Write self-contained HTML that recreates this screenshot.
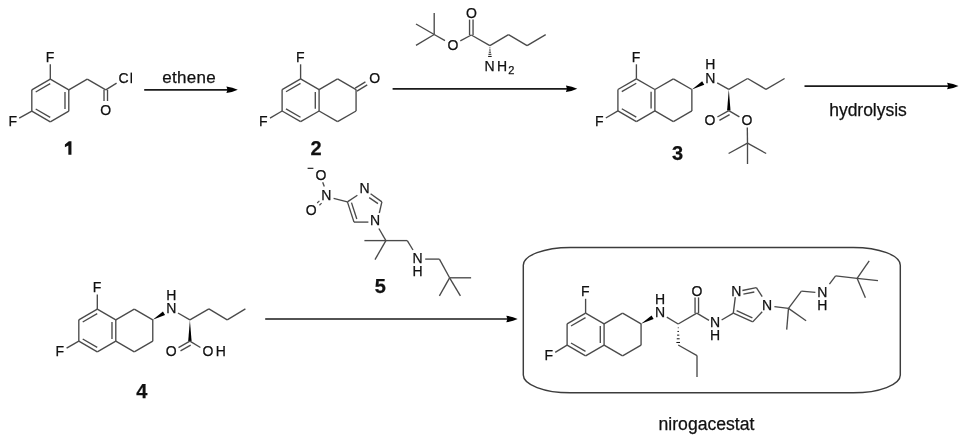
<!DOCTYPE html>
<html><head><meta charset="utf-8"><style>
html,body{margin:0;padding:0;background:#fff;}
body{width:960px;height:435px;overflow:hidden;}
svg{display:block;}
text{font-family:"Liberation Sans",sans-serif;fill:#111;stroke:#111;stroke-width:0.25px;}
svg{will-change:transform;}
</style></head><body>
<svg width="960" height="435" viewBox="0 0 960 435">
<rect width="960" height="435" fill="#fff"/>
<line x1="50.3" y1="79.15" x2="68.79" y2="89.83" stroke="#4a4a4a" stroke-width="1.35"/>
<line x1="68.79" y1="89.83" x2="68.79" y2="111.17" stroke="#4a4a4a" stroke-width="1.35"/>
<line x1="68.79" y1="111.17" x2="50.3" y2="121.85" stroke="#4a4a4a" stroke-width="1.35"/>
<line x1="50.3" y1="121.85" x2="31.81" y2="111.17" stroke="#4a4a4a" stroke-width="1.35"/>
<line x1="31.81" y1="111.17" x2="31.81" y2="89.83" stroke="#4a4a4a" stroke-width="1.35"/>
<line x1="31.81" y1="89.83" x2="50.3" y2="79.15" stroke="#4a4a4a" stroke-width="1.35"/>
<line x1="35.7" y1="91.97" x2="50.21" y2="83.59" stroke="#4a4a4a" stroke-width="1.35"/>
<line x1="64.99" y1="92.12" x2="64.99" y2="108.88" stroke="#4a4a4a" stroke-width="1.35"/>
<line x1="50.21" y1="117.41" x2="35.7" y2="109.03" stroke="#4a4a4a" stroke-width="1.35"/>
<line x1="50.3" y1="79.15" x2="50.3" y2="64.2" stroke="#4a4a4a" stroke-width="1.35"/>
<text x="45.82" y="61.6" style="font-size:14px">F</text>
<line x1="31.81" y1="111.17" x2="19.2" y2="118.2" stroke="#4a4a4a" stroke-width="1.35"/>
<text x="8.62" y="125.8" style="font-size:14px">F</text>
<line x1="68.79" y1="89.83" x2="87.28" y2="79.15" stroke="#4a4a4a" stroke-width="1.35"/>
<line x1="87.28" y1="79.15" x2="105.77" y2="89.83" stroke="#4a4a4a" stroke-width="1.35"/>
<line x1="105.77" y1="89.83" x2="116.6" y2="83.2" stroke="#4a4a4a" stroke-width="1.35"/>
<text x="118.6" y="83.15" style="font-size:14px">C</text>
<rect x="130.55" y="72.6" width="1.45" height="10.6" fill="#111"/>
<line x1="104.02" y1="89.83" x2="104.02" y2="101" stroke="#4a4a4a" stroke-width="1.35"/>
<line x1="107.52" y1="89.83" x2="107.52" y2="101" stroke="#4a4a4a" stroke-width="1.35"/>
<text x="100.17" y="115.15" style="font-size:14px">O</text>
<polygon points="71.45,141.2 71.45,154.7 68.35,154.7 68.35,145.4 64.9,147.3 64.9,144.5 68.9,141.2" fill="#111"/>
<line x1="144.2" y1="89.8" x2="228.3" y2="89.8" stroke="#1a1a1a" stroke-width="1.7"/>
<path d="M237.8 89.8 Q232.6 87.3 226.4 86.55 L227.5 89.8 L226.4 93.05 Q232.6 92.3 237.8 89.8Z" fill="#000"/>
<text x="162.3" y="82.65" style="font-size:17px;letter-spacing:0.3px">ethene</text>
<line x1="300.6" y1="78.95" x2="319.09" y2="89.62" stroke="#4a4a4a" stroke-width="1.35"/>
<line x1="319.09" y1="89.62" x2="319.09" y2="110.97" stroke="#4a4a4a" stroke-width="1.35"/>
<line x1="319.09" y1="110.97" x2="300.6" y2="121.65" stroke="#4a4a4a" stroke-width="1.35"/>
<line x1="300.6" y1="121.65" x2="282.11" y2="110.97" stroke="#4a4a4a" stroke-width="1.35"/>
<line x1="282.11" y1="110.97" x2="282.11" y2="89.62" stroke="#4a4a4a" stroke-width="1.35"/>
<line x1="282.11" y1="89.62" x2="300.6" y2="78.95" stroke="#4a4a4a" stroke-width="1.35"/>
<line x1="286" y1="91.77" x2="300.51" y2="83.39" stroke="#4a4a4a" stroke-width="1.35"/>
<line x1="315.29" y1="91.92" x2="315.29" y2="108.67" stroke="#4a4a4a" stroke-width="1.35"/>
<line x1="300.51" y1="117.21" x2="286" y2="108.83" stroke="#4a4a4a" stroke-width="1.35"/>
<line x1="319.09" y1="89.62" x2="337.58" y2="78.95" stroke="#4a4a4a" stroke-width="1.35"/>
<line x1="337.58" y1="78.95" x2="356.07" y2="89.62" stroke="#4a4a4a" stroke-width="1.35"/>
<line x1="356.07" y1="89.62" x2="356.07" y2="110.97" stroke="#4a4a4a" stroke-width="1.35"/>
<line x1="356.07" y1="110.97" x2="337.58" y2="121.65" stroke="#4a4a4a" stroke-width="1.35"/>
<line x1="337.58" y1="121.65" x2="319.09" y2="110.97" stroke="#4a4a4a" stroke-width="1.35"/>
<line x1="300.6" y1="78.95" x2="300.6" y2="64.3" stroke="#4a4a4a" stroke-width="1.35"/>
<text x="296.03" y="61.6" style="font-size:14px">F</text>
<line x1="282.11" y1="110.97" x2="270" y2="118.1" stroke="#4a4a4a" stroke-width="1.35"/>
<text x="259.12" y="125.7" style="font-size:14px">F</text>
<line x1="356.97" y1="91.12" x2="367.24" y2="84.95" stroke="#4a4a4a" stroke-width="1.35"/>
<line x1="355.17" y1="88.13" x2="365.43" y2="81.95" stroke="#4a4a4a" stroke-width="1.35"/>
<text x="369.18" y="83.25" style="font-size:14px">O</text>
<text x="310.4" y="155.3" style="font-size:20px;font-weight:bold">2</text>
<line x1="434.2" y1="34.5" x2="434.2" y2="13.1" stroke="#4a4a4a" stroke-width="1.35"/>
<line x1="434.2" y1="34.5" x2="416" y2="24" stroke="#4a4a4a" stroke-width="1.35"/>
<line x1="434.2" y1="34.5" x2="416" y2="45.4" stroke="#4a4a4a" stroke-width="1.35"/>
<line x1="434.2" y1="34.5" x2="445" y2="40.7" stroke="#4a4a4a" stroke-width="1.35"/>
<text x="447.57" y="49.65" style="font-size:14px">O</text>
<line x1="460.3" y1="40.8" x2="471.3" y2="35" stroke="#4a4a4a" stroke-width="1.35"/>
<line x1="473.05" y1="35" x2="473.05" y2="19.6" stroke="#4a4a4a" stroke-width="1.35"/>
<line x1="469.55" y1="35" x2="469.55" y2="19.6" stroke="#4a4a4a" stroke-width="1.35"/>
<text x="466.07" y="17.85" style="font-size:14px">O</text>
<line x1="471.3" y1="35" x2="489.9" y2="45.6" stroke="#4a4a4a" stroke-width="1.35"/>
<line x1="489.9" y1="45.6" x2="508.5" y2="34.6" stroke="#4a4a4a" stroke-width="1.35"/>
<line x1="508.5" y1="34.6" x2="527.1" y2="45.6" stroke="#4a4a4a" stroke-width="1.35"/>
<line x1="527.1" y1="45.6" x2="545.7" y2="34.6" stroke="#4a4a4a" stroke-width="1.35"/>
<line x1="490.3" y1="47.88" x2="489.5" y2="47.88" stroke="#111" stroke-width="1.0"/>
<line x1="490.65" y1="50.02" x2="489.15" y2="50.02" stroke="#111" stroke-width="1.0"/>
<line x1="491" y1="52.16" x2="488.8" y2="52.16" stroke="#111" stroke-width="1.0"/>
<line x1="491.35" y1="54.29" x2="488.45" y2="54.29" stroke="#111" stroke-width="1.0"/>
<line x1="491.7" y1="56.43" x2="488.1" y2="56.43" stroke="#111" stroke-width="1.0"/>
<text x="484.55" y="70.6" style="font-size:14px">N</text>
<text x="497.05" y="70.6" style="font-size:14px">H</text>
<text x="508.25" y="74" style="font-size:11px">2</text>
<line x1="392.6" y1="88.8" x2="567.8" y2="88.8" stroke="#1a1a1a" stroke-width="1.7"/>
<path d="M577.3 88.8 Q572.1 86.3 565.9 85.55 L567 88.8 L565.9 92.05 Q572.1 91.3 577.3 88.8Z" fill="#000"/>
<line x1="636.4" y1="78.85" x2="654.89" y2="89.53" stroke="#4a4a4a" stroke-width="1.35"/>
<line x1="654.89" y1="89.53" x2="654.89" y2="110.88" stroke="#4a4a4a" stroke-width="1.35"/>
<line x1="654.89" y1="110.88" x2="636.4" y2="121.55" stroke="#4a4a4a" stroke-width="1.35"/>
<line x1="636.4" y1="121.55" x2="617.91" y2="110.88" stroke="#4a4a4a" stroke-width="1.35"/>
<line x1="617.91" y1="110.88" x2="617.91" y2="89.53" stroke="#4a4a4a" stroke-width="1.35"/>
<line x1="617.91" y1="89.53" x2="636.4" y2="78.85" stroke="#4a4a4a" stroke-width="1.35"/>
<line x1="621.8" y1="91.67" x2="636.31" y2="83.29" stroke="#4a4a4a" stroke-width="1.35"/>
<line x1="651.09" y1="91.83" x2="651.09" y2="108.58" stroke="#4a4a4a" stroke-width="1.35"/>
<line x1="636.31" y1="117.11" x2="621.8" y2="108.73" stroke="#4a4a4a" stroke-width="1.35"/>
<line x1="654.89" y1="89.53" x2="673.38" y2="78.85" stroke="#4a4a4a" stroke-width="1.35"/>
<line x1="673.38" y1="78.85" x2="691.87" y2="89.53" stroke="#4a4a4a" stroke-width="1.35"/>
<line x1="691.87" y1="89.53" x2="691.87" y2="110.88" stroke="#4a4a4a" stroke-width="1.35"/>
<line x1="691.87" y1="110.88" x2="673.38" y2="121.55" stroke="#4a4a4a" stroke-width="1.35"/>
<line x1="673.38" y1="121.55" x2="654.89" y2="110.88" stroke="#4a4a4a" stroke-width="1.35"/>
<line x1="636.4" y1="78.85" x2="636.4" y2="64.3" stroke="#4a4a4a" stroke-width="1.35"/>
<text x="631.82" y="61.5" style="font-size:14px">F</text>
<line x1="617.91" y1="110.88" x2="605.8" y2="118" stroke="#4a4a4a" stroke-width="1.35"/>
<text x="594.92" y="125.6" style="font-size:14px">F</text>
<polygon points="691.87,89.53 704.25,84.82 702.15,81.18" fill="#000"/>
<text x="705.25" y="83" style="font-size:14px">N</text>
<text x="705.25" y="68.9" style="font-size:14px">H</text>
<line x1="717.2" y1="82.8" x2="728.8" y2="89.3" stroke="#4a4a4a" stroke-width="1.35"/>
<line x1="728.8" y1="89.3" x2="747.6" y2="78.5" stroke="#4a4a4a" stroke-width="1.35"/>
<line x1="747.6" y1="78.5" x2="766" y2="89.3" stroke="#4a4a4a" stroke-width="1.35"/>
<line x1="766" y1="89.3" x2="784.6" y2="78.5" stroke="#4a4a4a" stroke-width="1.35"/>
<polygon points="728.8,89.3 727.1,110.6 730.5,110.6" fill="#000"/>
<line x1="728.8" y1="110.6" x2="717.4" y2="117" stroke="#4a4a4a" stroke-width="1.35"/>
<line x1="729.6" y1="114.6" x2="719.4" y2="120.3" stroke="#4a4a4a" stroke-width="1.35"/>
<text x="704.58" y="125.15" style="font-size:14px">O</text>
<line x1="728.8" y1="110.6" x2="739.4" y2="116.9" stroke="#4a4a4a" stroke-width="1.35"/>
<text x="741.58" y="125.15" style="font-size:14px">O</text>
<line x1="747.3" y1="127.6" x2="747.5" y2="143.2" stroke="#4a4a4a" stroke-width="1.35"/>
<line x1="747.5" y1="143.2" x2="728.6" y2="153.5" stroke="#4a4a4a" stroke-width="1.35"/>
<line x1="747.5" y1="143.2" x2="766.2" y2="153.5" stroke="#4a4a4a" stroke-width="1.35"/>
<line x1="747.5" y1="143.2" x2="747.5" y2="164" stroke="#4a4a4a" stroke-width="1.35"/>
<text x="672.08" y="160.05" style="font-size:20px;font-weight:bold">3</text>
<line x1="804.5" y1="86.1" x2="949" y2="86.1" stroke="#1a1a1a" stroke-width="1.7"/>
<path d="M958.5 86.1 Q953.3 83.6 947.1 82.85 L948.2 86.1 L947.1 89.35 Q953.3 88.6 958.5 86.1Z" fill="#000"/>
<text x="829.2" y="115.6" style="font-size:17.5px;letter-spacing:-0.02px">hydrolysis</text>
<line x1="97.3" y1="309.15" x2="115.79" y2="319.82" stroke="#4a4a4a" stroke-width="1.35"/>
<line x1="115.79" y1="319.82" x2="115.79" y2="341.18" stroke="#4a4a4a" stroke-width="1.35"/>
<line x1="115.79" y1="341.18" x2="97.3" y2="351.85" stroke="#4a4a4a" stroke-width="1.35"/>
<line x1="97.3" y1="351.85" x2="78.81" y2="341.18" stroke="#4a4a4a" stroke-width="1.35"/>
<line x1="78.81" y1="341.18" x2="78.81" y2="319.82" stroke="#4a4a4a" stroke-width="1.35"/>
<line x1="78.81" y1="319.82" x2="97.3" y2="309.15" stroke="#4a4a4a" stroke-width="1.35"/>
<line x1="82.7" y1="321.97" x2="97.21" y2="313.59" stroke="#4a4a4a" stroke-width="1.35"/>
<line x1="111.99" y1="322.12" x2="111.99" y2="338.88" stroke="#4a4a4a" stroke-width="1.35"/>
<line x1="97.21" y1="347.41" x2="82.7" y2="339.03" stroke="#4a4a4a" stroke-width="1.35"/>
<line x1="115.79" y1="319.82" x2="134.28" y2="309.15" stroke="#4a4a4a" stroke-width="1.35"/>
<line x1="134.28" y1="309.15" x2="152.77" y2="319.82" stroke="#4a4a4a" stroke-width="1.35"/>
<line x1="152.77" y1="319.82" x2="152.77" y2="341.18" stroke="#4a4a4a" stroke-width="1.35"/>
<line x1="152.77" y1="341.18" x2="134.28" y2="351.85" stroke="#4a4a4a" stroke-width="1.35"/>
<line x1="134.28" y1="351.85" x2="115.79" y2="341.18" stroke="#4a4a4a" stroke-width="1.35"/>
<line x1="97.3" y1="309.15" x2="97.3" y2="294.5" stroke="#4a4a4a" stroke-width="1.35"/>
<text x="92.83" y="291.7" style="font-size:14px">F</text>
<line x1="78.81" y1="341.18" x2="66.6" y2="348.2" stroke="#4a4a4a" stroke-width="1.35"/>
<text x="55.62" y="355.8" style="font-size:14px">F</text>
<polygon points="152.77,319.82 165.07,315.01 162.93,311.39" fill="#000"/>
<text x="166.15" y="313.4" style="font-size:14px">N</text>
<text x="166.15" y="299.7" style="font-size:14px">H</text>
<line x1="178" y1="313" x2="189.9" y2="319.9" stroke="#4a4a4a" stroke-width="1.35"/>
<line x1="189.9" y1="319.9" x2="208.9" y2="308.9" stroke="#4a4a4a" stroke-width="1.35"/>
<line x1="208.9" y1="308.9" x2="227.2" y2="319.9" stroke="#4a4a4a" stroke-width="1.35"/>
<line x1="227.2" y1="319.9" x2="245.4" y2="308.9" stroke="#4a4a4a" stroke-width="1.35"/>
<polygon points="189.9,319.9 188.2,341.2 191.6,341.2" fill="#000"/>
<line x1="189.9" y1="341.2" x2="178.5" y2="347.6" stroke="#4a4a4a" stroke-width="1.35"/>
<line x1="190.7" y1="345.2" x2="180.5" y2="350.9" stroke="#4a4a4a" stroke-width="1.35"/>
<text x="165.77" y="355.95" style="font-size:14px">O</text>
<line x1="189.9" y1="341.2" x2="200.4" y2="347.5" stroke="#4a4a4a" stroke-width="1.35"/>
<text x="202.45" y="356.25" style="font-size:14px">O</text>
<text x="215.85" y="355.9" style="font-size:14px">H</text>
<text x="136.35" y="398.1" style="font-size:20px;font-weight:bold">4</text>
<line x1="265.2" y1="319" x2="508.2" y2="319" stroke="#1a1a1a" stroke-width="1.7"/>
<path d="M517.7 319 Q512.5 316.5 506.3 315.75 L507.4 319 L506.3 322.25 Q512.5 321.5 517.7 319Z" fill="#000"/>
<text x="315.57" y="179.85" style="font-size:14px">O</text>
<line x1="307.6" y1="168.3" x2="313.4" y2="168.3" stroke="#111" stroke-width="1.1"/>
<line x1="322.7" y1="182.3" x2="324.3" y2="186.6" stroke="#4a4a4a" stroke-width="1.35"/>
<text x="321.25" y="200.2" style="font-size:14px">N</text>
<line x1="317.2" y1="203" x2="319.4" y2="200.9" stroke="#4a4a4a" stroke-width="1.2"/>
<line x1="319.4" y1="205.2" x2="321.6" y2="203.1" stroke="#4a4a4a" stroke-width="1.2"/>
<text x="305.77" y="215.45" style="font-size:14px">O</text>
<line x1="333.6" y1="198.4" x2="347.42" y2="201.84" stroke="#4a4a4a" stroke-width="1.35"/>
<line x1="347.42" y1="201.84" x2="357.4" y2="195.2" stroke="#4a4a4a" stroke-width="1.35"/>
<text x="359.55" y="193.4" style="font-size:14px">N</text>
<line x1="370.6" y1="193.8" x2="381.88" y2="201.84" stroke="#4a4a4a" stroke-width="1.35"/>
<line x1="369.2" y1="197.6" x2="378" y2="203.6" stroke="#4a4a4a" stroke-width="1.35"/>
<line x1="381.88" y1="201.84" x2="379.3" y2="213" stroke="#4a4a4a" stroke-width="1.35"/>
<text x="369.95" y="225" style="font-size:14px">N</text>
<line x1="368.4" y1="222.1" x2="354" y2="222.1" stroke="#4a4a4a" stroke-width="1.35"/>
<line x1="354" y1="222.1" x2="347.42" y2="201.84" stroke="#4a4a4a" stroke-width="1.35"/>
<line x1="356.81" y1="219.08" x2="351.46" y2="202.63" stroke="#4a4a4a" stroke-width="1.35"/>
<line x1="378.9" y1="228.5" x2="385.9" y2="240.6" stroke="#4a4a4a" stroke-width="1.35"/>
<line x1="385.9" y1="240.6" x2="364.4" y2="240.6" stroke="#4a4a4a" stroke-width="1.35"/>
<line x1="385.9" y1="240.6" x2="375" y2="259.6" stroke="#4a4a4a" stroke-width="1.35"/>
<line x1="385.9" y1="240.6" x2="407.3" y2="240.6" stroke="#4a4a4a" stroke-width="1.35"/>
<line x1="407.3" y1="240.6" x2="413" y2="250" stroke="#4a4a4a" stroke-width="1.35"/>
<text x="412.55" y="263.4" style="font-size:14px">N</text>
<text x="412.55" y="276.4" style="font-size:14px">H</text>
<line x1="425.2" y1="259.1" x2="439.4" y2="259.1" stroke="#4a4a4a" stroke-width="1.35"/>
<line x1="439.4" y1="259.1" x2="449.6" y2="277.8" stroke="#4a4a4a" stroke-width="1.35"/>
<line x1="449.6" y1="277.8" x2="471.1" y2="277.8" stroke="#4a4a4a" stroke-width="1.35"/>
<line x1="449.6" y1="277.8" x2="439.4" y2="295.9" stroke="#4a4a4a" stroke-width="1.35"/>
<line x1="449.6" y1="277.8" x2="460.4" y2="295.9" stroke="#4a4a4a" stroke-width="1.35"/>
<text x="374.8" y="293.3" style="font-size:20px;font-weight:bold">5</text>
<rect x="523.3" y="247.4" width="377" height="145.4" rx="47" ry="17.8" fill="none" stroke="#3c3c3c" stroke-width="1.45"/>
<text x="658.55" y="429.9" style="font-size:17.6px">nirogacestat</text>
<line x1="585.6" y1="313.15" x2="604.09" y2="323.82" stroke="#4a4a4a" stroke-width="1.35"/>
<line x1="604.09" y1="323.82" x2="604.09" y2="345.18" stroke="#4a4a4a" stroke-width="1.35"/>
<line x1="604.09" y1="345.18" x2="585.6" y2="355.85" stroke="#4a4a4a" stroke-width="1.35"/>
<line x1="585.6" y1="355.85" x2="567.11" y2="345.18" stroke="#4a4a4a" stroke-width="1.35"/>
<line x1="567.11" y1="345.18" x2="567.11" y2="323.82" stroke="#4a4a4a" stroke-width="1.35"/>
<line x1="567.11" y1="323.82" x2="585.6" y2="313.15" stroke="#4a4a4a" stroke-width="1.35"/>
<line x1="571" y1="325.97" x2="585.51" y2="317.59" stroke="#4a4a4a" stroke-width="1.35"/>
<line x1="600.29" y1="326.12" x2="600.29" y2="342.88" stroke="#4a4a4a" stroke-width="1.35"/>
<line x1="585.51" y1="351.41" x2="571" y2="343.03" stroke="#4a4a4a" stroke-width="1.35"/>
<line x1="604.09" y1="323.82" x2="622.58" y2="313.15" stroke="#4a4a4a" stroke-width="1.35"/>
<line x1="622.58" y1="313.15" x2="641.07" y2="323.82" stroke="#4a4a4a" stroke-width="1.35"/>
<line x1="641.07" y1="323.82" x2="641.07" y2="345.18" stroke="#4a4a4a" stroke-width="1.35"/>
<line x1="641.07" y1="345.18" x2="622.58" y2="355.85" stroke="#4a4a4a" stroke-width="1.35"/>
<line x1="622.58" y1="355.85" x2="604.09" y2="345.18" stroke="#4a4a4a" stroke-width="1.35"/>
<line x1="585.6" y1="313.15" x2="585.6" y2="298.8" stroke="#4a4a4a" stroke-width="1.35"/>
<text x="581.02" y="296.2" style="font-size:14px">F</text>
<line x1="567.11" y1="345.18" x2="555.2" y2="352.4" stroke="#4a4a4a" stroke-width="1.35"/>
<text x="544.42" y="359.9" style="font-size:14px">F</text>
<polygon points="641.07,323.82 653.65,319.02 651.55,315.38" fill="#000"/>
<text x="654.95" y="317.3" style="font-size:14px">N</text>
<text x="654.95" y="303.5" style="font-size:14px">H</text>
<line x1="666.8" y1="317.2" x2="678.2" y2="324" stroke="#4a4a4a" stroke-width="1.35"/>
<line x1="678.6" y1="327.78" x2="677.8" y2="327.78" stroke="#111" stroke-width="1.0"/>
<line x1="678.95" y1="331.45" x2="677.45" y2="331.45" stroke="#111" stroke-width="1.0"/>
<line x1="679.3" y1="335.13" x2="677.1" y2="335.13" stroke="#111" stroke-width="1.0"/>
<line x1="679.65" y1="338.81" x2="676.75" y2="338.81" stroke="#111" stroke-width="1.0"/>
<line x1="680" y1="342.48" x2="676.4" y2="342.48" stroke="#111" stroke-width="1.0"/>
<line x1="678.2" y1="345" x2="697" y2="355.6" stroke="#4a4a4a" stroke-width="1.35"/>
<line x1="697" y1="355.6" x2="697" y2="377.1" stroke="#4a4a4a" stroke-width="1.35"/>
<line x1="678.2" y1="324" x2="696.8" y2="313.2" stroke="#4a4a4a" stroke-width="1.35"/>
<line x1="698.55" y1="313.2" x2="698.55" y2="297.4" stroke="#4a4a4a" stroke-width="1.35"/>
<line x1="695.05" y1="313.2" x2="695.05" y2="297.4" stroke="#4a4a4a" stroke-width="1.35"/>
<text x="691.38" y="295.85" style="font-size:14px">O</text>
<line x1="696.8" y1="313.2" x2="709" y2="320.3" stroke="#4a4a4a" stroke-width="1.35"/>
<text x="709.95" y="327" style="font-size:14px">N</text>
<text x="709.95" y="340.1" style="font-size:14px">H</text>
<line x1="721.6" y1="320" x2="733.31" y2="313.2" stroke="#4a4a4a" stroke-width="1.35"/>
<line x1="733.31" y1="313.2" x2="735.3" y2="297.2" stroke="#4a4a4a" stroke-width="1.35"/>
<text x="731.25" y="295.6" style="font-size:14px">N</text>
<line x1="742.4" y1="290.5" x2="756.37" y2="287.59" stroke="#4a4a4a" stroke-width="1.35"/>
<line x1="743.4" y1="294.1" x2="754.3" y2="292" stroke="#4a4a4a" stroke-width="1.35"/>
<line x1="756.37" y1="287.59" x2="762.2" y2="296.6" stroke="#4a4a4a" stroke-width="1.35"/>
<text x="762.05" y="309.6" style="font-size:14px">N</text>
<line x1="762.2" y1="311.7" x2="752.77" y2="321.86" stroke="#4a4a4a" stroke-width="1.35"/>
<line x1="752.77" y1="321.86" x2="733.31" y2="313.2" stroke="#4a4a4a" stroke-width="1.35"/>
<line x1="752.4" y1="317.76" x2="736.6" y2="310.72" stroke="#4a4a4a" stroke-width="1.35"/>
<line x1="774.4" y1="306.7" x2="788.5" y2="308.4" stroke="#4a4a4a" stroke-width="1.35"/>
<line x1="788.5" y1="308.4" x2="786.7" y2="329.6" stroke="#4a4a4a" stroke-width="1.35"/>
<line x1="788.5" y1="308.4" x2="806.1" y2="320.8" stroke="#4a4a4a" stroke-width="1.35"/>
<line x1="788.5" y1="308.4" x2="801.4" y2="291.2" stroke="#4a4a4a" stroke-width="1.35"/>
<line x1="801.4" y1="291.2" x2="815.4" y2="292.3" stroke="#4a4a4a" stroke-width="1.35"/>
<text x="817.35" y="297" style="font-size:14px">N</text>
<text x="817.35" y="310.3" style="font-size:14px">H</text>
<line x1="829.4" y1="284.2" x2="835.6" y2="275.9" stroke="#4a4a4a" stroke-width="1.35"/>
<line x1="835.6" y1="275.9" x2="857.1" y2="278.3" stroke="#4a4a4a" stroke-width="1.35"/>
<line x1="857.1" y1="278.3" x2="869.2" y2="260.8" stroke="#4a4a4a" stroke-width="1.35"/>
<line x1="857.1" y1="278.3" x2="878" y2="280.7" stroke="#4a4a4a" stroke-width="1.35"/>
<line x1="857.1" y1="278.3" x2="865.4" y2="297.7" stroke="#4a4a4a" stroke-width="1.35"/>
</svg>
</body></html>
